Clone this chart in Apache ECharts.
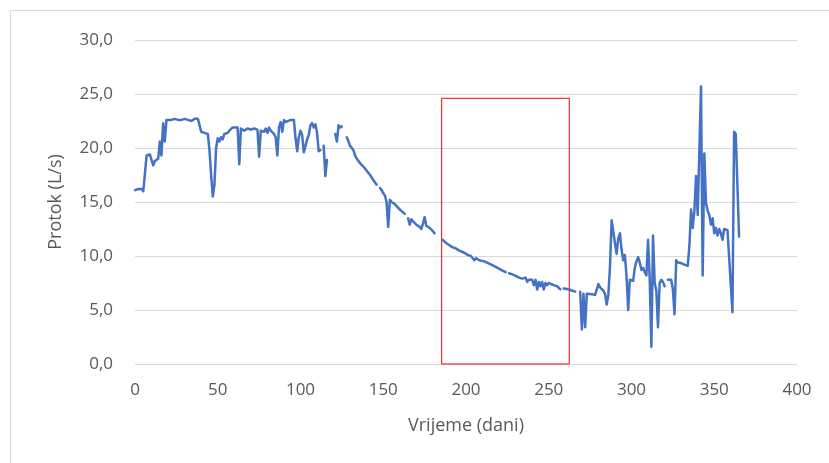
<!DOCTYPE html>
<html>
<head>
<meta charset="utf-8">
<script src="https://cdn.jsdelivr.net/npm/echarts@6/dist/echarts.min.js"></script>
<style>
  html, body { margin: 0; padding: 0; background: #fff; }
  #chart { width: 829px; height: 463px; }
</style>
</head>
<body>
<div id="chart"></div>
<script>
// Dan mjerenja i protok (L/s); null prekida liniju gdje nema mjerenja
const dani = [
  0, 2, 4, 5, 6, 7, 9, 10, 11, 12, 13, 14, 15, 16, 17, 18, 19, 20, 22, 24,
  26, 28, 30, 32, 34, 36, 38, 39, 40, 42, 44, 45, 46, 47, 48, 49, 50, 51, 52, 53,
  54, 55, 56, 57, 58, 59, 60, 62, 63, 64, 66, 68, 70, 72, 74, 75, 76, 78, 79, 80,
  81, 82, 83, 84, 85, 86, 87, 88, 89, 90, 91, 92, 94, 96, 97, 98, 99, 100, 101, 102,
  103, 104, 105, 106, 107, 108, 109, 110, 111, 112, 113, 114, 115, 116, 118, 121, 122, 123, 124, 125,
  126, 128, 130, 132, 133, 134, 136, 139, 142, 145, 146, 147, 148, 149, 150, 151, 152, 153, 154, 155,
  157, 160, 163, 164, 165, 166, 167, 168, 170, 172, 173, 174, 175, 176, 178, 180, 181, 183, 186, 188,
  190, 192, 194, 196, 197, 199, 201, 203, 204, 205, 206, 208, 211, 214, 218, 222, 224, 225, 226, 228,
  230, 232, 234, 235, 236, 237, 238, 239, 240, 241, 242, 243, 244, 245, 246, 247, 248, 249, 250, 251,
  253, 255, 257, 258, 259, 261, 263, 265, 266, 267, 269, 270, 271, 272, 273, 274, 276, 278, 279, 280,
  281, 282, 283, 284, 285, 286, 287, 288, 289, 290, 291, 292, 293, 294, 295, 296, 297, 298, 299, 300,
  301, 302, 303, 304, 305, 306, 307, 308, 309, 310, 311, 312, 313, 314, 315, 316, 317, 318, 319, 320,
  321, 322, 324, 325, 326, 327, 328, 330, 332, 334, 335, 336, 337, 338, 339, 340, 341, 342, 343, 344,
  345, 346, 347, 348, 349, 350, 351, 352, 353, 354, 355, 356, 357, 358, 359, 361, 362, 363, 365
];
const protok = [
  16.1, 16.2, 16.2, 16.0, 16.1, 19.3, 19.4, 19.4, 18.4, 18.8, 18.9, 19.0, 20.6, 19.3, 22.3, 20.6, 22.6, 22.7, 22.6, 22.7,
  22.6, 22.6, 22.7, 22.6, 22.5, 22.7, 22.7, 22.6, 21.5, 21.4, 21.3, 19.8, 17.5, 15.5, 16.6, 20.0, 20.9, 20.6, 21.0, 20.8,
  21.3, 21.2, 21.4, 21.6, 21.5, 21.9, 21.8, 21.9, 18.5, 21.8, 21.6, 21.8, 21.7, 21.8, 21.7, 19.2, 21.6, 21.5, 21.8, 21.4,
  21.9, 21.6, 21.7, 21.3, 21.0, 19.3, 21.9, 22.4, 21.5, 22.6, 22.4, 22.5, 22.6, 22.6, 20.9, 19.7, 21.0, 21.6, 21.2, 19.6,
  19.5, 20.8, 21.2, 22.1, 22.3, 21.9, 22.2, 21.4, 19.7, 19.8, null, 20.2, 17.4, 18.9, null, 21.3, 20.6, 22.1, 21.9, 22.0,
  null, 21.0, 20.2, 19.8, 19.3, 19.0, 18.6, 18.1, 17.5, 16.8, 16.6, null, 16.3, 16.1, 15.8, 15.6, 15.0, 12.7, 15.2, 15.0,
  14.8, 14.3, 13.9, null, 13.5, 12.9, 13.4, 13.2, 12.9, 12.7, 12.5, 13.0, 13.6, 12.8, 12.6, 12.3, 12.1, null, 11.5, 11.2,
  11.0, 10.8, 10.7, 10.5, 10.4, 10.3, 10.1, 10.0, 9.9, 9.6, 9.8, 9.6, 9.5, 9.3, 9.0, 8.65, 8.5, null, 8.4, 8.3,
  8.15, 8.0, 7.9, 7.8, 8.0, 7.6, 7.8, 7.7, 7.8, 7.3, 7.8, 6.9, 7.6, 7.2, 7.6, 6.9, 7.5, 7.3, 7.5, 7.4,
  7.3, 7.2, 6.9, null, 7.0, 6.95, 6.85, 6.75, 6.7, null, 6.7, 3.2, 6.5, 3.4, 6.5, 6.45, 6.45, 6.4, 6.5, 7.4,
  7.1, 7.0, 6.8, 6.5, 5.5, 6.4, 9.0, 13.3, 13.2, 11.2, 10.2, 11.6, 12.1, 10.6, 9.6, 10.1, 8.1, 5.0, 7.8, 7.9,
  7.7, 8.9, 9.5, 9.9, 9.4, 8.7, 8.9, 8.5, 8.2, 11.5, 7.9, 1.6, 11.9, 7.5, 6.8, 3.4, 7.5, 7.8, 7.6, 7.2,
  null, 7.8, 7.8, 6.9, 4.6, 9.6, 9.4, 9.35, 9.2, 9.1, 11.0, 14.3, 12.6, 14.2, 17.4, 13.8, 13.9, 25.7, 8.2, 19.5,
  14.9, 14.2, 13.8, 12.9, 13.5, 12.1, 12.6, 11.9, 12.5, 12.1, 11.5, 12.5, 12.5, 12.4, 12.3, 4.8, 21.5, 21.3, 11.8
];

// Označeno razdoblje (crveni okvir)
const okvirDani = [185.3, 262.4];
const okvirProtok = [0, 24.6];

// Osi
const xMin = 0, xMax = 400, xKorak = 50;
const yMin = 0, yMax = 30, yKorak = 5;

const font = '"Open Sans", "Noto Sans", sans-serif';
const sivaTekst = '#595959';

const chart = echarts.init(document.getElementById('chart'), null, { renderer: 'canvas' });

chart.setOption({
  animation: false,
  backgroundColor: '#ffffff',
  graphic: [{
    type: 'rect',
    shape: { x: 10.5, y: 10.5, width: 840, height: 480 },
    style: { fill: 'none', stroke: '#D9D9D9', lineWidth: 1 },
    silent: true,
    z: -1
  }],
  grid: { left: 135, right: 32, top: 40, bottom: 99 },
  xAxis: {
    type: 'value',
    min: xMin, max: xMax, interval: xKorak,
    name: 'Vrijeme (dani)',
    nameLocation: 'middle',
    nameGap: 53,
    nameTextStyle: { fontFamily: font, fontSize: 18, color: sivaTekst },
    axisLine: { show: false },
    axisTick: { show: false },
    splitLine: { show: false },
    axisLabel: { margin: 18, fontFamily: font, fontSize: 17, color: sivaTekst }
  },
  yAxis: {
    type: 'value',
    min: yMin, max: yMax, interval: yKorak,
    name: 'Protok (L/s)',
    nameLocation: 'middle',
    nameGap: 70,
    nameRotate: 90,
    nameTextStyle: { fontFamily: font, fontSize: 18, color: sivaTekst },
    axisLine: { show: false },
    axisTick: { show: false },
    splitLine: { show: true, lineStyle: { color: '#D9D9D9', width: 1 } },
    axisLabel: {
      margin: 22, fontFamily: font, fontSize: 17, color: sivaTekst,
      formatter: v => v.toFixed(1).replace('.', ',')
    }
  },
  series: [{
    type: 'line',
    data: dani.map((d, i) => [d, protok[i]]),
    showSymbol: false,
    connectNulls: false,
    lineStyle: { color: '#4472C4', width: 2.5, join: 'round', cap: 'round' },
    itemStyle: { color: '#4472C4' },
    markArea: {
      silent: true,
      itemStyle: { color: 'rgba(0,0,0,0)', borderColor: '#FF0000', borderWidth: 1 },
      data: [[
        { xAxis: okvirDani[0], yAxis: okvirProtok[0] },
        { xAxis: okvirDani[1], yAxis: okvirProtok[1] }
      ]]
    }
  }]
});
</script>
</body>
</html>
